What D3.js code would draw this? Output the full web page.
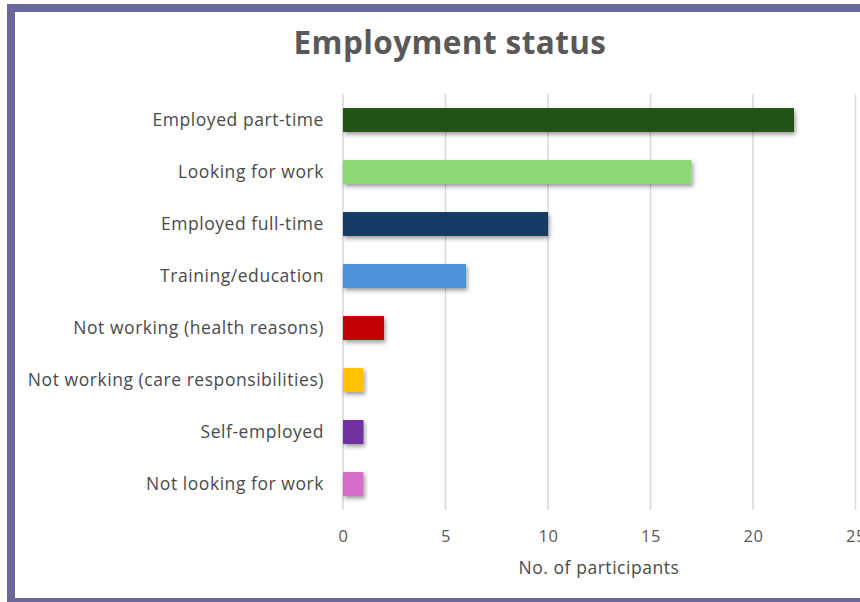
<!DOCTYPE html>
<html>
<head>
<meta charset="utf-8">
<script src="https://cdn.jsdelivr.net/npm/d3@7"></script>
<style>
  html, body { margin: 0; padding: 0; background: #ffffff; }
  svg { display: block; }
</style>
</head>
<body>
<svg id="chart" width="860" height="602"></svg>
<script>
// Employment status of participants
const categories = [
  "Employed part-time",
  "Looking for work",
  "Employed full-time",
  "Training/education",
  "Not working (health reasons)",
  "Not working (care responsibilities)",
  "Self-employed",
  "Not looking for work"
];
const counts = [22, 17, 10, 6, 2, 1, 1, 1];
const barColors = ["#245217", "#8ed874", "#163a63", "#4d93d9", "#c00000", "#ffc000", "#7030a0", "#d86ecc"];
const tickValues = [0, 5, 10, 15, 20, 25];

const FONT = "'Open Sans', 'Noto Sans', sans-serif";
const svg = d3.select("#chart");

const x = d3.scaleLinear().domain([0, 25]).range([343, 855.5]);
const y = d3.scaleBand().domain(categories).range([94, 510]).paddingInner(0.54).paddingOuter(0.27);

// drop shadow under bars
const defs = svg.append("defs");
const f = defs.append("filter").attr("id", "shadow")
  .attr("x", "-10%").attr("y", "-40%").attr("width", "130%").attr("height", "200%");
f.append("feDropShadow").attr("dx", 1.5).attr("dy", 2.5).attr("stdDeviation", 2.2)
  .attr("flood-color", "#000").attr("flood-opacity", 0.4);

// frame
svg.append("rect").attr("x", 11).attr("y", 8).attr("width", 900).attr("height", 594)
  .attr("fill", "#ffffff").attr("stroke", "#6a679b").attr("stroke-width", 8);

// title
svg.append("text").attr("x", 450).attr("y", 54).attr("text-anchor", "middle")
  .attr("font-family", FONT).attr("font-weight", 700).attr("font-size", 31.5)
  .attr("letter-spacing", 0.4)
  .attr("fill", "#595959").text("Employment status");

// gridlines
svg.append("g").selectAll("line").data(tickValues).join("line")
  .attr("x1", d => x(d)).attr("x2", d => x(d))
  .attr("y1", 94).attr("y2", 510)
  .attr("stroke", "#d9d9d9").attr("stroke-width", 1.5);

// x axis labels
const xAxis = d3.axisBottom(x).tickValues(tickValues).tickSize(0).tickPadding(0);
const gx = svg.append("g").attr("transform", "translate(0,542)").call(xAxis);
gx.select(".domain").remove();
gx.selectAll("text").attr("dy", 0).attr("font-family", FONT).attr("font-size", 16.5)
  .attr("letter-spacing", 0.5).attr("fill", "#595959");

// y axis labels
const yAxis = d3.axisLeft(y).tickSize(0).tickPadding(0);
const gy = svg.append("g").attr("transform", "translate(324,0)").call(yAxis);
gy.select(".domain").remove();
gy.selectAll("text").attr("dy", "0.35em").attr("font-family", FONT).attr("font-size", 17.5)
  .attr("letter-spacing", 0.55).attr("fill", "#4a4a4a");

// bars
svg.append("g").selectAll("rect").data(categories).join("rect")
  .attr("x", x(0))
  .attr("y", d => y(d))
  .attr("width", (d, i) => x(counts[i]) - x(0))
  .attr("height", y.bandwidth())
  .attr("fill", (d, i) => barColors[i])
  .attr("filter", "url(#shadow)");

// axis title
svg.append("text").attr("x", 599).attr("y", 574).attr("text-anchor", "middle")
  .attr("font-family", FONT).attr("font-size", 17.5).attr("letter-spacing", 0.55)
  .attr("fill", "#4a4a4a")
  .text("No. of participants");
</script>
</body>
</html>
